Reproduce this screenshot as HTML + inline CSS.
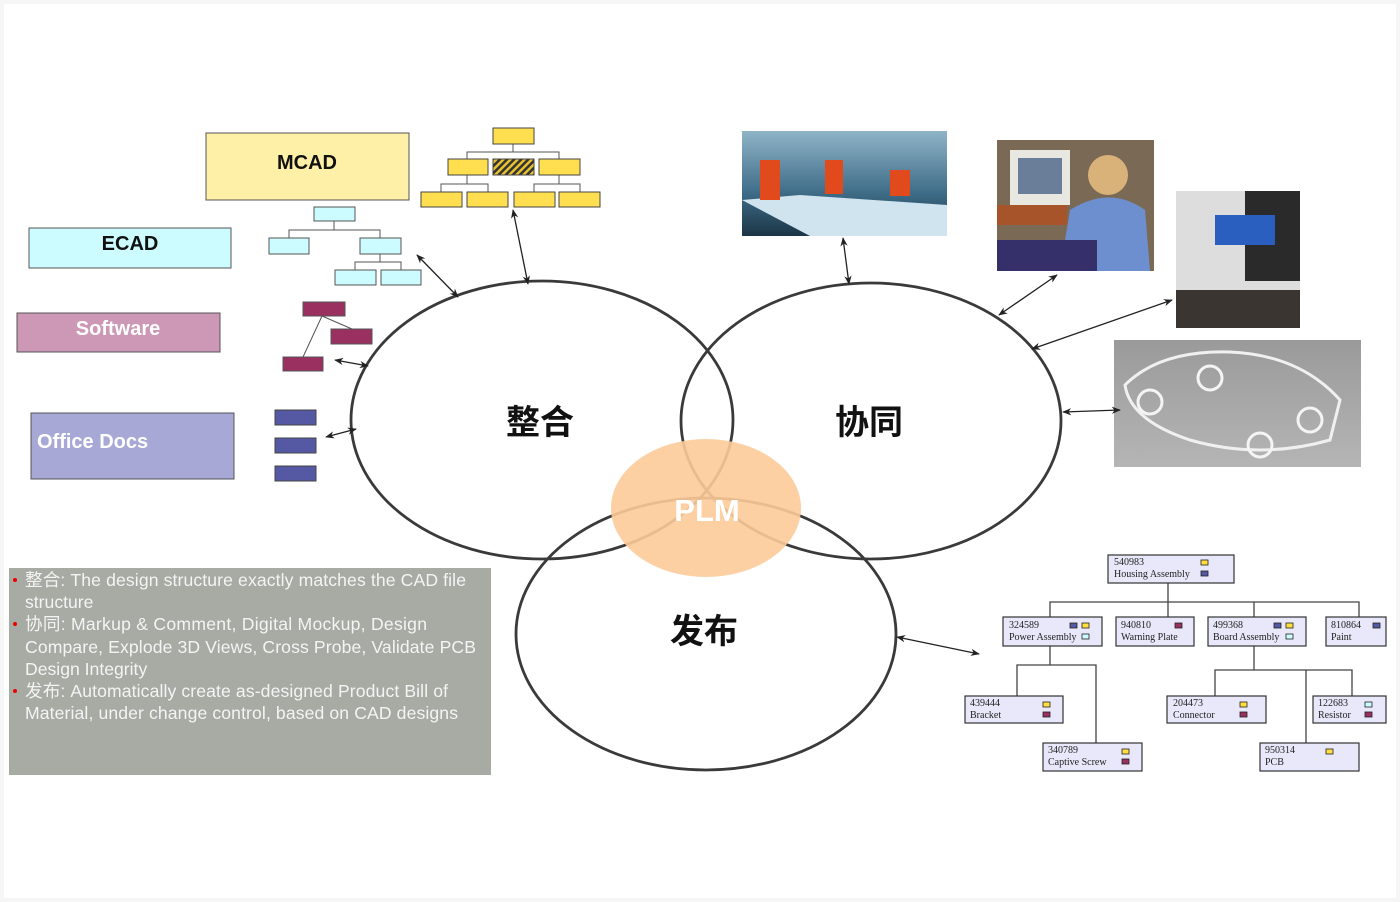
<!DOCTYPE html>
<html><head><meta charset="utf-8"><style>
html,body{margin:0;padding:0;background:#fff}
svg{display:block}
</style></head><body>
<svg width="1400" height="902" viewBox="0 0 1400 902" xmlns="http://www.w3.org/2000/svg" font-family="Liberation Sans, Noto Sans CJK SC, sans-serif">
<defs>
<marker id="a" viewBox="0 0 10 10" refX="9" refY="5" markerWidth="7" markerHeight="7" orient="auto-start-reverse"><path d="M0,1 L10,5 L0,9 L3,5 z" fill="#222"/></marker>
<pattern id="h" width="5" height="5" patternUnits="userSpaceOnUse" patternTransform="rotate(45)"><rect width="5" height="5" fill="#e8c030"/><rect width="2.5" height="5" fill="#333"/></pattern>
<linearGradient id="f1" x1="0" y1="0" x2="0" y2="1"><stop offset="0" stop-color="#8fb4c8"/><stop offset="0.6" stop-color="#3d6b86"/><stop offset="1" stop-color="#1c3546"/></linearGradient>
<linearGradient id="cg" x1="0" y1="0" x2="0" y2="1"><stop offset="0" stop-color="#9a9a9a"/><stop offset="1" stop-color="#b5b5b5"/></linearGradient>
</defs>
<rect x="0" y="0" width="1400" height="902" fill="#f6f6f6"/>
<rect x="4" y="4" width="1392" height="894" fill="#fff"/>

<rect x="206" y="133" width="203" height="67" fill="#fff0a8" stroke="#555"/>
<text x="307" y="169" font-size="20" font-weight="bold" text-anchor="middle" fill="#111">MCAD</text>
<rect x="29" y="228" width="202" height="40" fill="#ccfcff" stroke="#555"/>
<text x="130" y="250" font-size="20" font-weight="bold" text-anchor="middle" fill="#111">ECAD</text>
<rect x="17" y="313" width="203" height="39" fill="#cc98b6" stroke="#555"/>
<text x="118" y="335" font-size="20" font-weight="bold" text-anchor="middle" fill="#fff">Software</text>
<rect x="31" y="413" width="203" height="66" fill="#a8a8d6" stroke="#555"/>
<text x="37" y="448" font-size="20" font-weight="bold" fill="#fff">Office Docs</text>

<g stroke="#555" fill="none"><path d="M334,221 V230 M289,238 V230 H380 V238 M380,254 V262 M355,270 V262 H401 V270"/></g>
<g fill="#ccfcff" stroke="#555"><rect x="314" y="207" width="41" height="14"/><rect x="269" y="238" width="40" height="16"/><rect x="360" y="238" width="41" height="16"/><rect x="335" y="270" width="41" height="15"/><rect x="381" y="270" width="40" height="15"/></g>
<g stroke="#555" fill="none"><path d="M513,144 V152 M467,159 V152 H559 V159 M467,175 V184 M441,192 V184 H488 V192 M559,175 V184 M534,192 V184 H580 V192"/></g>
<g fill="#ffdf50" stroke="#444"><rect x="493" y="128" width="41" height="16"/><rect x="448" y="159" width="40" height="16"/><rect x="539" y="159" width="41" height="16"/><rect x="421" y="192" width="41" height="15"/><rect x="467" y="192" width="41" height="15"/><rect x="514" y="192" width="41" height="15"/><rect x="559" y="192" width="41" height="15"/></g>
<rect x="493" y="159" width="41" height="16" fill="url(#h)" stroke="#444"/>
<g stroke="#555"><line x1="322" y1="316" x2="352" y2="329"/><line x1="322" y1="316" x2="303" y2="357"/></g>
<g fill="#9a3060" stroke="#555"><rect x="303" y="302" width="42" height="14"/><rect x="331" y="329" width="41" height="15"/><rect x="283" y="357" width="40" height="14"/></g>
<g fill="#5558a2" stroke="#444"><rect x="275" y="410" width="41" height="15"/><rect x="275" y="438" width="41" height="15"/><rect x="275" y="466" width="41" height="15"/></g>

<rect x="742" y="131" width="205" height="105" fill="url(#f1)"/>
<polygon points="742,200 800,195 947,205 947,236 810,236" fill="#cfe4ee"/>
<rect x="760" y="160" width="20" height="40" fill="#e04a1c"/><rect x="825" y="160" width="18" height="34" fill="#e04a1c"/><rect x="890" y="170" width="20" height="26" fill="#e04a1c"/>
<rect x="997" y="140" width="157" height="131" fill="#7a6a55"/>
<rect x="1010" y="150" width="60" height="55" fill="#e8e8e0"/><rect x="1018" y="158" width="44" height="36" fill="#6a7e9a"/>
<rect x="997" y="205" width="70" height="20" fill="#a8542a"/>
<circle cx="1108" cy="175" r="20" fill="#d9b27a"/>
<path d="M1070,210 Q1110,185 1145,210 L1150,271 L1060,271 Z" fill="#6d8fd0"/>
<rect x="997" y="240" width="100" height="31" fill="#35306a"/>
<rect x="1176" y="191" width="124" height="137" fill="#ddd"/>
<rect x="1245" y="191" width="55" height="90" fill="#2a2a2a"/>
<rect x="1215" y="215" width="60" height="30" fill="#2a5fc0"/>
<rect x="1176" y="290" width="124" height="38" fill="#3a3530"/>
<rect x="1114" y="340" width="247" height="127" fill="url(#cg)"/>
<path d="M1125,385 Q1160,350 1230,352 Q1300,355 1340,400 L1330,440 Q1260,460 1190,440 Q1130,420 1125,385 Z" fill="none" stroke="#f0f0f0" stroke-width="3"/>
<g fill="none" stroke="#f4f4f4" stroke-width="3"><circle cx="1150" cy="402" r="12"/><circle cx="1210" cy="378" r="12"/><circle cx="1310" cy="420" r="12"/><circle cx="1260" cy="445" r="12"/></g>

<g fill="none" stroke="#3a3a3a" stroke-width="2.8">
<ellipse cx="542" cy="420" rx="191" ry="139"/>
<ellipse cx="871" cy="421" rx="190" ry="138"/>
<ellipse cx="706" cy="634" rx="190" ry="136"/>
</g>
<ellipse cx="706" cy="508" rx="95" ry="69" fill="#fccb98" opacity="0.9"/>
<text x="707" y="521" font-size="31" font-weight="bold" text-anchor="middle" fill="#fff">PLM</text>
<text x="540" y="434" font-size="34" font-weight="bold" text-anchor="middle" fill="#111">整合</text>
<text x="869" y="434" font-size="34" font-weight="bold" text-anchor="middle" fill="#111">协同</text>
<text x="704" y="643" font-size="34" font-weight="bold" text-anchor="middle" fill="#111">发布</text>

<g stroke="#222" stroke-width="1.3" marker-start="url(#a)" marker-end="url(#a)">
<line x1="417" y1="255" x2="458" y2="297"/>
<line x1="513" y1="210" x2="528" y2="284"/>
<line x1="335" y1="360" x2="368" y2="366"/>
<line x1="326" y1="437" x2="356" y2="429"/>
<line x1="843" y1="238" x2="849" y2="284"/>
<line x1="1057" y1="275" x2="999" y2="315"/>
<line x1="1172" y1="300" x2="1032" y2="349"/>
<line x1="1063" y1="412" x2="1120" y2="410"/>
<line x1="897" y1="637" x2="979" y2="654"/>
</g>

<rect x="9" y="568" width="482" height="207" fill="#a7aba3"/>
<g font-size="17.6" fill="#f4f4f4">
<text x="25" y="586" textLength="441">整合: The design structure exactly matches the CAD file</text>
<text x="25" y="608">structure</text>
<text x="25" y="630" textLength="402">协同: Markup &amp; Comment, Digital Mockup,  Design</text>
<text x="25" y="653" textLength="451">Compare, Explode 3D Views, Cross Probe, Validate PCB</text>
<text x="25" y="675">Design Integrity</text>
<text x="25" y="697" textLength="423">发布: Automatically create as-designed Product Bill of</text>
<text x="25" y="719" textLength="433">Material, under change control, based on CAD designs</text>
</g>
<g fill="#e00"><circle cx="15" cy="580" r="2"/><circle cx="15" cy="624" r="2"/><circle cx="15" cy="691" r="2"/></g>

<g stroke="#444" stroke-width="1.3" fill="none">
<path d="M1168,583 V602 M1050,617 V602 H1359 V617 M1168,602 V617 M1254,602 V617"/>
<path d="M1050,646 V665 M1017,696 V665 H1096 V743"/>
<path d="M1254,646 V670 M1215,696 V670 H1352 V696 M1306,670 V743"/>
</g>
<g fill="#e8e8fa" stroke="#333" stroke-width="1.2">
<rect x="1108" y="555" width="126" height="28"/>
<rect x="1003" y="617" width="99" height="29"/>
<rect x="1116" y="617" width="78" height="29"/>
<rect x="1208" y="617" width="98" height="29"/>
<rect x="1326" y="617" width="60" height="29"/>
<rect x="965" y="696" width="98" height="27"/>
<rect x="1167" y="696" width="99" height="27"/>
<rect x="1313" y="696" width="73" height="27"/>
<rect x="1043" y="743" width="99" height="28"/>
<rect x="1260" y="743" width="99" height="28"/>
</g>
<g font-family="Liberation Serif, serif" font-size="10" fill="#222">
<text x="1114" y="565">540983</text><text x="1114" y="577">Housing Assembly</text>
<text x="1009" y="628">324589</text><text x="1009" y="640">Power Assembly</text>
<text x="1121" y="628">940810</text><text x="1121" y="640">Warning Plate</text>
<text x="1213" y="628">499368</text><text x="1213" y="640">Board Assembly</text>
<text x="1331" y="628">810864</text><text x="1331" y="640">Paint</text>
<text x="970" y="706">439444</text><text x="970" y="718">Bracket</text>
<text x="1173" y="706">204473</text><text x="1173" y="718">Connector</text>
<text x="1318" y="706">122683</text><text x="1318" y="718">Resistor</text>
<text x="1048" y="753">340789</text><text x="1048" y="765">Captive Screw</text>
<text x="1265" y="753">950314</text><text x="1265" y="765">PCB</text>
</g>
<g stroke="#222" stroke-width="0.8">
<rect x="1201" y="560" width="7" height="5" fill="#ffdf40"/><rect x="1201" y="571" width="7" height="5" fill="#5558a2"/>
<rect x="1070" y="623" width="7" height="5" fill="#5558a2"/><rect x="1082" y="623" width="7" height="5" fill="#ffdf40"/><rect x="1082" y="634" width="7" height="5" fill="#ccfcff"/>
<rect x="1175" y="623" width="7" height="5" fill="#9a3060"/>
<rect x="1274" y="623" width="7" height="5" fill="#5558a2"/><rect x="1286" y="623" width="7" height="5" fill="#ffdf40"/><rect x="1286" y="634" width="7" height="5" fill="#ccfcff"/>
<rect x="1373" y="623" width="7" height="5" fill="#5558a2"/>
<rect x="1043" y="702" width="7" height="5" fill="#ffdf40"/><rect x="1043" y="712" width="7" height="5" fill="#9a3060"/>
<rect x="1240" y="702" width="7" height="5" fill="#ffdf40"/><rect x="1240" y="712" width="7" height="5" fill="#9a3060"/>
<rect x="1365" y="702" width="7" height="5" fill="#ccfcff"/><rect x="1365" y="712" width="7" height="5" fill="#9a3060"/>
<rect x="1122" y="749" width="7" height="5" fill="#ffdf40"/><rect x="1122" y="759" width="7" height="5" fill="#9a3060"/>
<rect x="1326" y="749" width="7" height="5" fill="#ffdf40"/>
</g>
</svg>
</body></html>
